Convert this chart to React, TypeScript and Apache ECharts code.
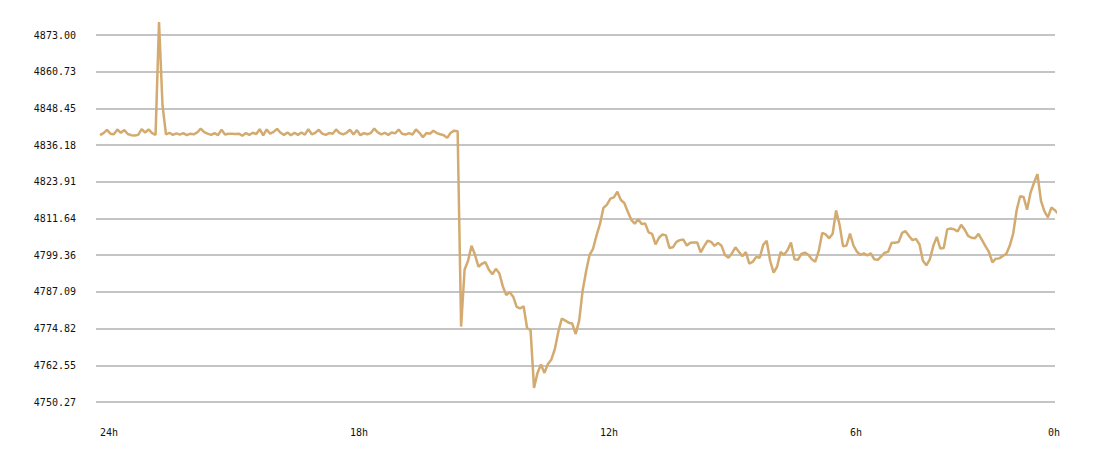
import React, { useEffect, useRef } from "react";
import * as echarts from "echarts";

// Price samples, one every 5 minutes, starting 24h ago
const START_HOURS_AGO = 24;
const STEP_MINUTES = 5;
const PRICES: number[] = [
  4839.5, 4840.2, 4841.3, 4840.0, 4839.8, 4841.4, 4840.3, 4841.2, 4839.9, 4839.5,
  4839.4, 4839.6, 4841.5, 4840.4, 4841.4, 4840.2, 4839.6, 4877.3, 4849.5, 4839.8,
  4840.3, 4839.6, 4840.1, 4839.7, 4840.2, 4839.5, 4840.0, 4839.8, 4840.4, 4841.7,
  4840.5, 4840.0, 4839.6, 4840.2, 4839.5, 4841.3, 4839.7, 4840.0, 4840.0, 4839.9,
  4840.0, 4839.3, 4840.2, 4839.6, 4840.3, 4839.9, 4841.5, 4839.4, 4841.4, 4840.0,
  4840.6, 4841.6, 4840.3, 4839.6, 4840.4, 4839.5, 4840.3, 4839.6, 4840.4, 4839.7,
  4841.5, 4839.8, 4840.3, 4841.3, 4840.0, 4839.6, 4840.2, 4840.0, 4841.4, 4840.2,
  4839.8, 4840.3, 4841.3, 4839.7, 4841.2, 4839.5, 4840.2, 4839.8, 4840.2, 4841.7,
  4840.4, 4839.8, 4840.3, 4839.6, 4840.4, 4840.1, 4841.4, 4840.0, 4839.7, 4840.2,
  4839.7, 4841.4, 4840.3, 4838.8, 4840.2, 4840.0, 4841.0, 4840.2, 4839.8, 4839.5,
  4838.6, 4840.3, 4841.0, 4840.8, 4775.5, 4794.5, 4797.5, 4802.5, 4799.5, 4795.5,
  4796.5, 4797.0, 4794.5, 4793.0, 4794.8, 4793.3, 4789.0, 4786.0, 4787.0, 4785.5,
  4782.1, 4781.6, 4782.3, 4775.0, 4774.3, 4755.0, 4760.0, 4762.8, 4760.0, 4763.0,
  4764.5, 4768.0, 4773.8, 4778.2, 4777.5, 4776.8, 4776.5, 4773.0, 4777.5, 4787.5,
  4794.0, 4799.5, 4801.5, 4806.0, 4809.8, 4815.2, 4816.3, 4818.3, 4818.7, 4820.6,
  4817.8, 4816.8, 4813.9, 4811.2, 4809.9, 4811.4, 4809.8, 4810.0, 4807.0, 4806.5,
  4803.0, 4805.2, 4806.3, 4806.0, 4801.8, 4802.0, 4803.8, 4804.4, 4804.6, 4802.6,
  4803.5, 4803.6, 4803.6, 4800.3, 4802.4, 4804.2, 4803.8, 4802.5, 4803.5, 4802.5,
  4799.4, 4798.5, 4800.0, 4802.0, 4800.5, 4799.0, 4800.4, 4796.5, 4797.2, 4798.8,
  4798.5, 4802.8, 4804.2, 4797.5, 4793.5, 4795.5, 4800.4, 4799.5, 4801.0, 4803.6,
  4798.0, 4797.8, 4799.8, 4800.2, 4799.5, 4798.0, 4797.2, 4800.8, 4806.8, 4806.3,
  4805.0, 4806.5, 4814.3, 4809.5, 4802.3, 4802.6, 4806.6, 4802.6, 4800.5, 4799.5,
  4800.0, 4799.3, 4800.0, 4798.0, 4797.8, 4799.0, 4800.2, 4800.5, 4803.5, 4803.5,
  4803.8, 4806.8, 4807.4, 4805.8, 4804.4, 4804.8, 4803.0, 4797.5, 4796.0, 4798.0,
  4802.5, 4805.5, 4801.6, 4801.8, 4808.0, 4808.3, 4808.0, 4807.3, 4809.5, 4808.0,
  4805.8, 4805.2, 4805.0, 4806.5, 4804.5, 4802.4, 4800.5, 4797.0, 4798.2, 4798.3,
  4799.1, 4799.8, 4802.5, 4806.6, 4814.4, 4819.1, 4818.8, 4814.6, 4820.3, 4823.6,
  4826.5, 4817.5, 4814.0, 4812.0, 4815.3, 4814.4, 4813.2, 4812.0,
];

const Y_TICKS: number[] = [
  4750.27, 4762.55, 4774.82, 4787.09, 4799.36, 4811.64, 4823.91, 4836.18, 4848.45, 4860.73, 4873.0,
];

const X_TICK_HOURS: number[] = [24, 18, 12, 6, 1.25];
const X_TICK_LABELS: string[] = ["24h", "18h", "12h", "6h", "0h"];

const FONT = "DejaVu Sans Mono";

export default function App() {
  const ref = useRef<HTMLDivElement>(null);

  useEffect(() => {
    document.body.style.margin = "0";
    if (!ref.current) return;
    const chart = echarts.init(ref.current, null, { renderer: "svg" });
    const data = PRICES.map((p, i) => [START_HOURS_AGO - (i * STEP_MINUTES) / 60, p]);

    chart.setOption({
      animation: false,
      backgroundColor: "#ffffff",
      grid: { left: 96, right: 45, top: 35, bottom: 56, outerBoundsMode: "none" },
      xAxis: {
        type: "value",
        inverse: true,
        min: 1.08,
        max: 24.096,
        axisLine: { show: false },
        axisTick: { show: false, customValues: X_TICK_HOURS },
        splitLine: { show: false },
        axisLabel: {
          customValues: X_TICK_HOURS,
          formatter: (v: number) => {
            const k = X_TICK_HOURS.findIndex((h) => Math.abs(h - v) < 1e-6);
            return k >= 0 ? X_TICK_LABELS[k] : "";
          },
          align: "left",
          margin: 25,
          fontFamily: FONT,
          fontSize: 10,
          color: "#111",
        },
      },
      yAxis: {
        type: "value",
        min: 4750.27,
        max: 4873.0,
        axisLine: { show: false },
        axisTick: { show: false, customValues: Y_TICKS },
        splitLine: { show: true, lineStyle: { color: "#c4c4c4", width: 2 } },
        axisLabel: {
          customValues: Y_TICKS,
          formatter: (v: number) => v.toFixed(2),
          margin: 20,
          fontFamily: FONT,
          fontSize: 10,
          color: "#111",
          padding: [4, 0, 0, 0],
        },
      },
      series: [
        {
          type: "line",
          data,
          showSymbol: false,
          clip: false,
          lineStyle: { color: "#d3ab71", width: 2.5 },
          itemStyle: { color: "#d3ab71" },
        },
      ],
    });

    return () => chart.dispose();
  }, []);

  return <div ref={ref} style={{ width: 1100, height: 458 }} />;
}
